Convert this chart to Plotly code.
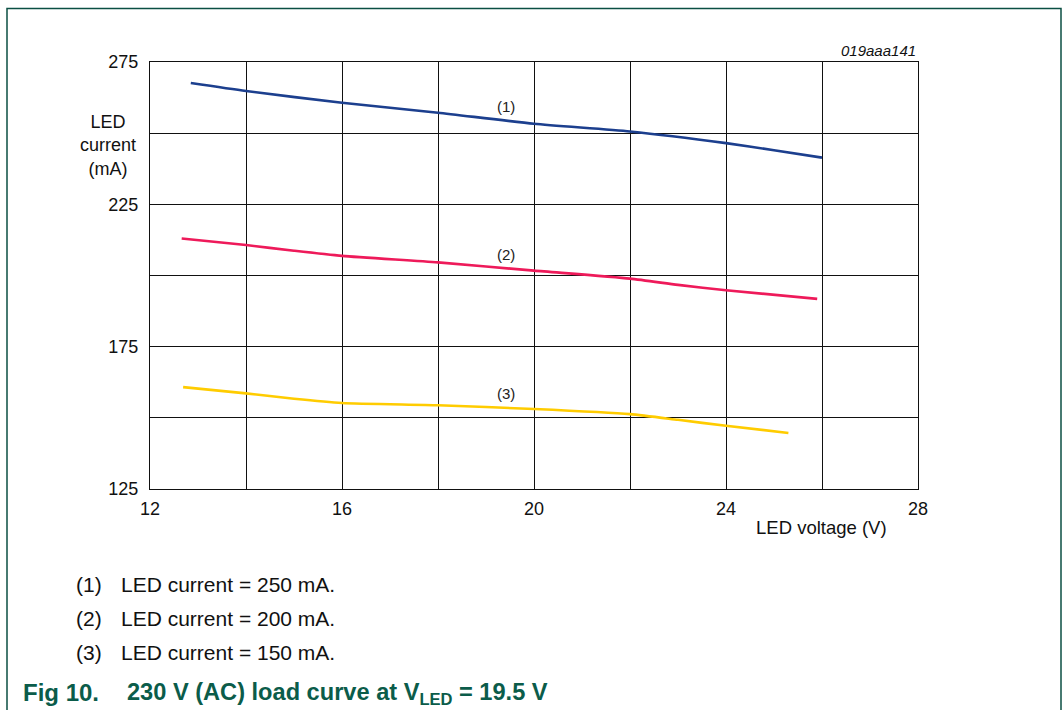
import plotly.graph_objects as go

# ---- data ----
v_250 = [12.85, 14, 16, 18, 20, 22, 24, 25, 26]
i_250 = [267.6, 264.8, 260.7, 257.2, 253.3, 250.6, 246.5, 244.0, 241.4]

v_200 = [12.66, 14, 15, 16, 18, 20, 22, 23, 24, 25.9]
i_200 = [213.0, 210.7, 208.7, 206.9, 204.6, 201.7, 198.9, 196.7, 194.8, 191.8]

v_150 = [12.69, 14, 15, 16, 18, 20, 22, 23, 24, 25.3]
i_150 = [160.8, 158.6, 156.7, 155.2, 154.4, 153.1, 151.3, 149.3, 147.2, 144.7]

x_ticks = [12, 16, 20, 24, 28]
x_minor = [14, 18, 22, 26]
y_ticks = [125, 175, 225, 275]
y_minor = [150, 200, 250]

curve_labels = ["(1)", "(2)", "(3)"]
curve_label_x = [19.42, 19.42, 19.42]
curve_label_y = [259.2, 207.4, 158.5]

notes_num = ["(1)", "(2)", "(3)"]
notes_text = ["LED current = 250 mA.", "LED current = 200 mA.", "LED current = 150 mA."]

FONT = "Liberation Sans, Arial, Helvetica, sans-serif"
W, H = 1063, 710
L, R, T, B = 150, 918, 61.5, 489


def px(x):
    return (x - L) / (R - L)


def py(y):
    return (B - y) / (B - T)


fig = go.Figure()
for xs, ys, col in [(v_250, i_250, "#1c3f8e"), (v_200, i_200, "#ee1a5a"), (v_150, i_150, "#ffcc00")]:
    fig.add_trace(go.Scatter(x=xs, y=ys, mode="lines",
                             line=dict(color=col, width=2.6, shape="spline", smoothing=0.6),
                             showlegend=False, hoverinfo="skip"))

annotations = []
for t, x, y in zip(curve_labels, curve_label_x, curve_label_y):
    annotations.append(dict(x=x, y=y, xref="x", yref="y", text=t, showarrow=False,
                            xanchor="center", yanchor="middle",
                            font=dict(family=FONT, size=15, color="#222")))

annotations.append(dict(x=px(108), y=py(145), xref="paper", yref="paper",
                        xanchor="center", yanchor="middle",
                        text="LED<br>current<br>(mA)", showarrow=False, align="center",
                        font=dict(family=FONT, size=18, color="#111")))
annotations.append(dict(x=1, y=py(50), xref="paper", yref="paper", xanchor="right", yanchor="middle",
                        text="<i>019aaa141</i>", showarrow=False,
                        font=dict(family=FONT, size=15, color="#111")))
annotations.append(dict(x=px(889), y=py(528), xref="paper", yref="paper", xanchor="right", yanchor="middle",
                        text="LED voltage (V)", showarrow=False,
                        font=dict(family=FONT, size=18.5, color="#111")))

for k, (n, t) in enumerate(zip(notes_num, notes_text)):
    yy = py(585 + 34 * k)
    annotations.append(dict(x=px(74), y=yy, xref="paper", yref="paper", xanchor="left", yanchor="middle",
                            text=n, showarrow=False, font=dict(family=FONT, size=21, color="#111")))
    annotations.append(dict(x=px(119), y=yy, xref="paper", yref="paper", xanchor="left", yanchor="middle",
                            text=t, showarrow=False, font=dict(family=FONT, size=21, color="#111")))

GREEN = "#0b5c4a"
annotations.append(dict(x=px(21), y=py(677), xref="paper", yref="paper", xanchor="left", yanchor="top",
                        text="<b>Fig 10.</b>", showarrow=False,
                        font=dict(family=FONT, size=24, color=GREEN)))
annotations.append(dict(x=px(125), y=py(677), xref="paper", yref="paper", xanchor="left", yanchor="top",
                        text="<b>230 V (AC) load curve at V<sub>LED</sub> = 19.5 V</b>", showarrow=False,
                        font=dict(family=FONT, size=23.6, color=GREEN)))

shapes = [dict(type="rect", xref="paper", yref="paper",
               x0=px(7), x1=px(1061), y0=py(730), y1=py(8),
               line=dict(color="#0b4f43", width=1.5), layer="below")]

fig.update_layout(
    width=W, height=H,
    margin=dict(l=L, r=W - R, t=T, b=H - B, pad=0),
    paper_bgcolor="white", plot_bgcolor="white",
    annotations=annotations, shapes=shapes,
    font=dict(family=FONT, color="#111"),
    xaxis=dict(range=[12, 28], tickmode="array", tickvals=x_ticks,
               showgrid=True, gridcolor="#111", gridwidth=1, zeroline=False,
               minor=dict(tickmode="array", tickvals=x_minor, showgrid=True,
                          gridcolor="#111", gridwidth=1, ticks=""),
               showline=True, linecolor="#111", linewidth=1, mirror=True,
               ticks="outside", ticklen=3, tickcolor="rgba(0,0,0,0)",
               tickfont=dict(family=FONT, size=18, color="#111")),
    yaxis=dict(range=[125, 275], tickmode="array", tickvals=y_ticks,
               showgrid=True, gridcolor="#111", gridwidth=1, zeroline=False,
               minor=dict(tickmode="array", tickvals=y_minor, showgrid=True,
                          gridcolor="#111", gridwidth=1, ticks=""),
               showline=True, linecolor="#111", linewidth=1, mirror=True,
               ticks="outside", ticklen=7, tickcolor="rgba(0,0,0,0)",
               tickfont=dict(family=FONT, size=18, color="#111")),
)

fig.write_html("out.html", config={"displayModeBar": False},
               post_script="document.body.style.margin='0';")
